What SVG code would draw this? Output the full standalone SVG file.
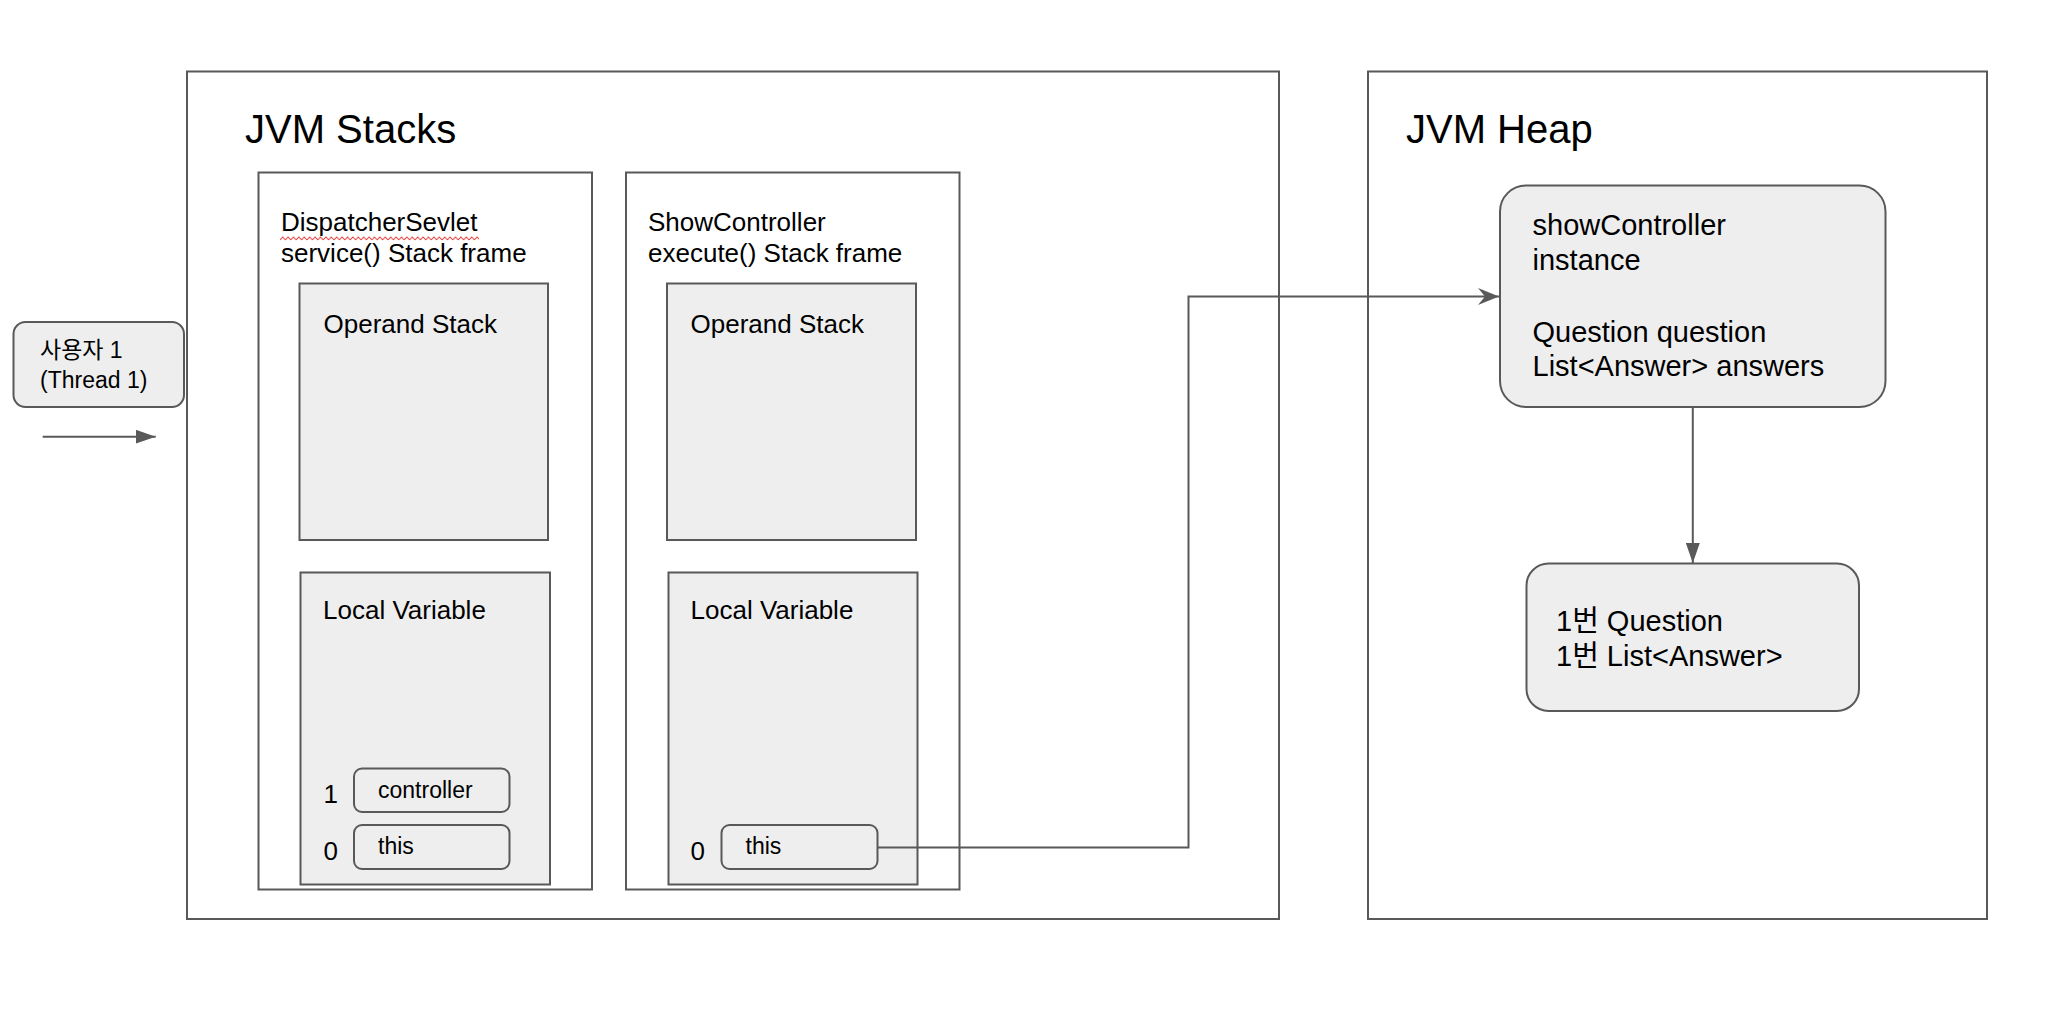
<svg xmlns="http://www.w3.org/2000/svg" width="2048" height="1022" viewBox="0 0 2048 1022">
<style>
  .frame { fill: #ffffff; stroke: #595959; stroke-width: 2; }
  .box { fill: #eeeeee; stroke: #595959; stroke-width: 2; }
  .t { font-family: "Liberation Sans", Arial, "Noto Sans CJK KR", sans-serif; fill: #000000; }
  .title { font-size: 40px; }
  .lbl { font-size: 26px; }
  .sm { font-size: 23px; }
  .big { font-size: 29px; }
  .conn { fill: none; stroke: #595959; stroke-width: 2; }
</style>
<defs>
  <marker id="tri" viewBox="0 0 20 14" refX="20" refY="7" markerWidth="20" markerHeight="14" markerUnits="userSpaceOnUse" orient="auto">
    <path d="M0,0 L20,7 L0,14 z" fill="#595959"/>
  </marker>
  <marker id="stealth" viewBox="0 0 22 17" refX="21" refY="8.5" markerWidth="22" markerHeight="17" markerUnits="userSpaceOnUse" orient="auto">
    <path d="M0,0 L21,8.5 L0,17 L7,8.5 z" fill="#595959"/>
  </marker>
  <pattern id="squig" x="280" y="236" width="5.4" height="5" patternUnits="userSpaceOnUse">
    <path d="M0,4 L2.7,1 L5.4,4" fill="none" stroke="#e53935" stroke-width="1"/>
  </pattern>
</defs>

<g id="jvm-stacks">
  <rect class="frame" x="187" y="71.5" width="1092" height="847.5"/>
  <text class="t title" x="245" y="143">JVM Stacks</text>
</g>

<g id="jvm-heap">
  <rect class="frame" x="1368" y="71.5" width="619" height="847.5"/>
  <text class="t title" x="1406" y="143">JVM Heap</text>
</g>

<g id="frame-dispatcher">
  <rect class="frame" x="258.5" y="172.5" width="333.5" height="717"/>
  <text class="t lbl" x="281" y="231">DispatcherSevlet</text>
  <rect x="280" y="236" width="199" height="5" fill="url(#squig)"/>
  <text class="t lbl" x="281" y="262">service() Stack frame</text>
</g>

<g id="operand-1">
  <rect class="box" x="299.5" y="283.5" width="248.5" height="256.5"/>
  <text class="t lbl" x="323.5" y="333">Operand Stack</text>
</g>

<g id="local-1">
  <rect class="box" x="300.5" y="572.5" width="249.5" height="312"/>
  <text class="t lbl" x="323" y="619">Local Variable</text>
  <text class="t lbl" x="323.5" y="803">1</text>
  <text class="t lbl" x="323.5" y="860">0</text>
</g>

<g id="var-controller">
  <rect class="box" x="354" y="768.5" width="155.5" height="43.5" rx="8"/>
  <text class="t sm" x="378" y="798">controller</text>
</g>

<g id="var-this-1">
  <rect class="box" x="354" y="825" width="155.5" height="44" rx="8"/>
  <text class="t sm" x="378" y="854">this</text>
</g>

<g id="frame-show">
  <rect class="frame" x="626" y="172.5" width="333.5" height="717"/>
  <text class="t lbl" x="648" y="231">ShowController</text>
  <text class="t lbl" x="648" y="262">execute() Stack frame</text>
</g>

<g id="operand-2">
  <rect class="box" x="667" y="283.5" width="249" height="256.5"/>
  <text class="t lbl" x="690.5" y="333">Operand Stack</text>
</g>

<g id="local-2">
  <rect class="box" x="668.5" y="572.5" width="249" height="312"/>
  <text class="t lbl" x="690.5" y="619">Local Variable</text>
  <text class="t lbl" x="690.5" y="860">0</text>
</g>

<g id="var-this-2">
  <rect class="box" x="721.5" y="825" width="156" height="44" rx="8"/>
  <text class="t sm" x="745.5" y="854">this</text>
</g>

<g id="thread-1">
  <rect class="box" x="13.5" y="322" width="170.5" height="85" rx="12"/>
  <text class="t sm" x="40" y="357.5">사용자 1</text>
  <text class="t sm" x="40" y="387.5">(Thread 1)</text>
</g>

<g id="show-instance">
  <rect class="box" x="1500" y="185.5" width="385.5" height="221.5" rx="26"/>
  <text class="t big" x="1532.5" y="235">showController</text>
  <text class="t big" x="1532.5" y="270">instance</text>
  <text class="t big" x="1532.5" y="341.5">Question question</text>
  <text class="t big" x="1532.5" y="376">List&lt;Answer&gt; answers</text>
</g>

<g id="answer-objects">
  <rect class="box" x="1526.5" y="563.5" width="332.5" height="147.5" rx="22"/>
  <text class="t big" x="1556" y="631">1번 Question</text>
  <text class="t big" x="1556" y="666">1번 List&lt;Answer&gt;</text>
</g>

<g id="connectors">
  <path class="conn" d="M42.7,436.7 H155.7" marker-end="url(#tri)"/>
  <path class="conn" d="M877.7,847.5 H1188.5 V296.5 H1499" marker-end="url(#stealth)"/>
  <path class="conn" d="M1692.8,407 V563" marker-end="url(#tri)"/>
</g>
</svg>
